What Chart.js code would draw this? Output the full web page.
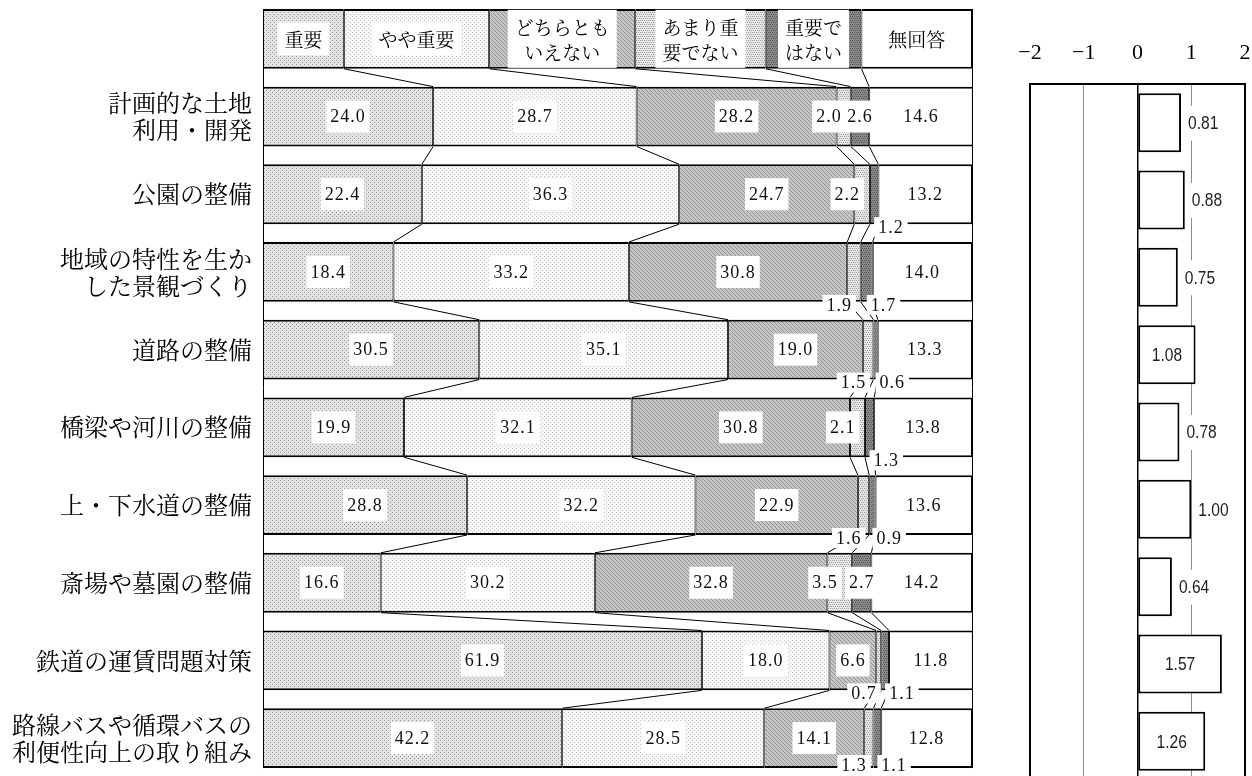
<!DOCTYPE html>
<html lang="ja">
<head>
<meta charset="utf-8">
<script src="https://cdn.jsdelivr.net/npm/chart.js@4.4.1/dist/chart.umd.min.js"></script>
<style>
  html, body { margin: 0; padding: 0; background: #fff; overflow: hidden; width: 1252px; height: 776px; }
  #mainChart { position: absolute; left: 0; top: 0; }
  #scoreChart { position: absolute; left: 990px; top: 0; }
</style>
</head>
<body>
<canvas id="mainChart" width="990" height="777"></canvas>
<canvas id="scoreChart" width="262" height="780"></canvas>
<script>
// ---- data ----
const categories = [
  ['計画的な土地', '利用・開発'],
  '公園の整備',
  ['地域の特性を生か', 'した景観づくり'],
  '道路の整備',
  '橋梁や河川の整備',
  '上・下水道の整備',
  '斎場や墓園の整備',
  '鉄道の運賃問題対策',
  ['路線バスや循環バスの', '利便性向上の取り組み']
];
const seriesNames = ['重要', 'やや重要', 'どちらともいえない', 'あまり重要でない', '重要ではない', '無回答'];
const legendLines = [['重要'], ['やや重要'], ['どちらとも', 'いえない'], ['あまり重', '要でない'], ['重要で', 'はない'], ['無回答']];
// widths of the legend row drawn as the first bar
const legendRowWidths = [11.4, 20.5, 20.6, 18.4, 13.5, 15.6];

const important     = [24.0, 22.4, 18.4, 30.5, 19.9, 28.8, 16.6, 61.9, 42.2];
const fairlyImp     = [28.7, 36.3, 33.2, 35.1, 32.1, 32.2, 30.2, 18.0, 28.5];
const neither       = [28.2, 24.7, 30.8, 19.0, 30.8, 22.9, 32.8, 6.6, 14.1];
const notVery       = [2.0, 2.2, 1.9, 1.5, 2.1, 1.6, 3.5, 0.7, 1.3];
const notImp        = [2.6, 1.2, 1.7, 0.6, 1.3, 0.9, 2.7, 1.1, 1.1];
const noAnswer      = [14.6, 13.2, 14.0, 13.3, 13.8, 13.6, 14.2, 11.8, 12.8];
const seriesValues = [important, fairlyImp, neither, notVery, notImp, noAnswer];

const avgScores  = [0.81, 0.88, 0.75, 1.08, 0.78, 1.00, 0.64, 1.57, 1.26];
const scoreTicks = [-2, -1, 0, 1, 2];

// where the labels of the two thin series go: c = centre, l = left of segment,
// bl / br = under the bar, left / right of the segment
const smallLabelPlace = {
  3: ['l', 'l', 'bl', 'bl', 'l', 'bl', 'l', 'bl', 'bl'],
  4: ['c', 'br', 'br', 'br', 'br', 'br', 'c', 'br', 'br']
};

const jpFont = '"Noto Serif CJK JP", "Noto Sans CJK JP", sans-serif';
const numFont = '"Liberation Serif", "DejaVu Serif", serif';
const labelFont = '"Liberation Sans", Roboto, sans-serif';

// ---- fill patterns ----
const mainCtx = document.getElementById('mainChart').getContext('2d');
function makePattern(bg, dot, cells) {
  const c = document.createElement('canvas');
  c.width = 4; c.height = 4;
  const g = c.getContext('2d');
  g.fillStyle = bg; g.fillRect(0, 0, 4, 4);
  g.fillStyle = dot;
  cells.forEach(p => g.fillRect(p[0], p[1], 1, 1));
  return mainCtx.createPattern(c, 'repeat');
}
const fills = [
  makePattern('#e2e2e2', '#9c9c9c', [[0, 0], [2, 2]]),
  makePattern('#f7f7f7', '#c4c4c4', [[0, 0], [2, 2]]),
  makePattern('#c6c6c6', '#929292', [[0, 0], [1, 1], [2, 2], [3, 3]]),
  makePattern('#e6e6e6', '#a0a0a0', [[0, 0], [2, 0], [1, 2], [3, 2]]),
  makePattern('#8a8a8a', '#555555', [[0, 0], [2, 0], [1, 2], [3, 2]]),
  '#ffffff'
];

function boxedText(ctx, lines, x, cy, opt) {
  ctx.font = opt.font;
  ctx.letterSpacing = opt.spacing || '0px';
  const w = Math.max.apply(null, lines.map(t => ctx.measureText(t).width));
  const bw = w + opt.padX * 2;
  const bh = opt.boxH || lines.length * opt.lineH + opt.padY * 2;
  const left = opt.anchor === 'left' ? x : opt.anchor === 'right' ? x - bw : x - bw / 2;
  ctx.fillStyle = '#fff';
  ctx.fillRect(left, cy - bh / 2, bw, bh);
  ctx.fillStyle = opt.color || '#000';
  ctx.textAlign = 'left';
  ctx.textBaseline = 'middle';
  lines.forEach((t, i) => {
    const tw = ctx.measureText(t).width;
    ctx.fillText(t, left + (bw - tw) / 2, cy + (i - (lines.length - 1) / 2) * opt.lineH + 1);
  });
  ctx.letterSpacing = '0px';
}

function noScalePadding(scale) {
  scale.paddingTop = 0;
  scale.paddingBottom = 0;
  scale.paddingLeft = 0;
  scale.paddingRight = 0;
}

const mainOverlay = {
  id: 'mainOverlay',
  beforeDatasetsDraw(chart) {
    const ctx = chart.ctx;
    const m = chart.getDatasetMeta(0).data;
    const top = m[0].y - m[0].height / 2;
    const bot = m[m.length - 1].y + m[m.length - 1].height / 2;
    ctx.save();
    ctx.strokeStyle = '#000';
    ctx.lineWidth = 1;
    [chart.chartArea.left, chart.chartArea.right].forEach(px => {
      ctx.beginPath();
      ctx.moveTo(Math.round(px) + 0.5, top);
      ctx.lineTo(Math.round(px) + 0.5, bot);
      ctx.stroke();
    });
    ctx.restore();
  },
  afterDatasetsDraw(chart) {
    const ctx = chart.ctx;
    const metas = seriesNames.map((_, i) => chart.getDatasetMeta(i).data);
    const rows = chart.data.labels.length;
    ctx.save();
    // series lines between bars
    ctx.strokeStyle = '#000';
    ctx.lineWidth = 1;
    for (let r = 0; r < rows - 1; r++) {
      const a = metas[0][r], b = metas[0][r + 1];
      const yA = a.y + a.height / 2, yB = b.y - b.height / 2;
      for (let s = 0; s < 5; s++) {
        ctx.beginPath();
        ctx.moveTo(metas[s][r].x, yA);
        ctx.lineTo(metas[s][r + 1].x, yB);
        ctx.stroke();
      }
    }
    // legend row
    for (let s = 0; s < seriesNames.length; s++) {
      const el = metas[s][0];
      boxedText(ctx, legendLines[s], (el.x + el.base) / 2, el.y,
        { font: '19px ' + jpFont, lineH: 25, padX: 7, padY: 4 });
    }
    // value labels
    const numOpt = { font: '18px ' + numFont, lineH: 18, padX: 4, color: '#111', spacing: '1px' };
    const order = [0, 1, 2, 5, 3, 4];
    order.forEach(s => {
      for (let r = 1; r < rows; r++) {
        const el = metas[s][r];
        const v = seriesValues[s][r - 1];
        const mode = smallLabelPlace[s] ? smallLabelPlace[s][r - 1] : 'c';
        const cx = (el.x + el.base) / 2;
        const bottom = el.y + el.height / 2;
        const under = Math.min(bottom + 3, chart.chartArea.bottom - 12);
        const txt = [v.toFixed(1)];
        if (mode === 'c') boxedText(ctx, txt, cx, el.y, Object.assign({}, numOpt, { boxH: 32 }));
        else if (mode === 'l') boxedText(ctx, txt, cx + 2, el.y, Object.assign({}, numOpt, { boxH: 32, anchor: 'right' }));
        else if (mode === 'bl') boxedText(ctx, txt, cx + 2, under, Object.assign({}, numOpt, { boxH: 20, anchor: 'right' }));
        else boxedText(ctx, txt, cx, under, Object.assign({}, numOpt, { boxH: 20, anchor: 'left' }));
      }
    });
    ctx.restore();
  }
};

new Chart(document.getElementById('mainChart'), {
  type: 'bar',
  data: {
    labels: [''].concat(categories),
    datasets: seriesNames.map((name, s) => ({
      label: name,
      data: [legendRowWidths[s]].concat(seriesValues[s]),
      backgroundColor: fills[s],
      borderColor: '#000',
      borderWidth: { top: 2, bottom: 2, left: 1, right: 1 },
      borderSkipped: false,
      categoryPercentage: 1,
      barPercentage: 0.77
    }))
  },
  options: {
    indexAxis: 'y',
    responsive: false,
    animation: false,
    events: [],
    layout: { padding: { left: 0, right: 18, top: 0, bottom: 0 } },
    plugins: { legend: { display: false }, tooltip: { enabled: false } },
    scales: {
      x: { stacked: true, min: 0, max: 100, display: false },
      y: {
        stacked: true,
        grid: { display: false, drawTicks: false },
        border: { display: false },
        ticks: { autoSkip: false, padding: 11, color: '#000', font: { family: jpFont, size: 24, lineHeight: 1.13 } },
        afterFit(scale) { scale.width = 263; noScalePadding(scale); }
      }
    }
  },
  plugins: [mainOverlay]
});

// ---- average score chart ----
const scoreLabels = {
  id: 'scoreLabels',
  afterDatasetsDraw(chart) {
    const ctx = chart.ctx;
    const squeeze = 0.82; // narrow lettering
    ctx.save();
    ctx.font = '19px ' + labelFont;
    ctx.textBaseline = 'middle';
    ctx.textAlign = 'left';
    chart.getDatasetMeta(0).data.forEach((el, i) => {
      const txt = avgScores[i].toFixed(2);
      const w = ctx.measureText(txt).width * squeeze;
      let tx;
      if (avgScores[i] > 1.05) {
        tx = (el.x + el.base) / 2 - w / 2;
      } else {
        ctx.fillStyle = '#fff';
        ctx.fillRect(el.x + 4, el.y - 17, w + 6, 35);
        tx = el.x + 7;
      }
      ctx.save();
      ctx.translate(tx, el.y + 1);
      ctx.scale(squeeze, 1);
      ctx.fillStyle = '#222';
      ctx.fillText(txt, 0, 0);
      ctx.restore();
    });
    ctx.restore();
  }
};

new Chart(document.getElementById('scoreChart'), {
  type: 'bar',
  data: {
    labels: categories,
    datasets: [{
      data: avgScores,
      backgroundColor: '#fff',
      borderColor: '#000',
      borderWidth: 2,
      borderSkipped: false,
      categoryPercentage: 1,
      barPercentage: 0.763
    }]
  },
  options: {
    indexAxis: 'y',
    responsive: false,
    animation: false,
    events: [],
    layout: { padding: { left: 40, right: 7, top: 0, bottom: 0 } },
    plugins: { legend: { display: false }, tooltip: { enabled: false } },
    scales: {
      x: {
        position: 'top',
        min: -2,
        max: 2,
        afterBuildTicks(scale) { scale.ticks = scoreTicks.map(v => ({ value: v })); },
        ticks: {
          padding: 18,
          color: '#000',
          maxRotation: 0,
          font: { family: numFont, size: 22 },
          callback: v => (v < 0 ? '−' + Math.abs(v) : String(v))
        },
        grid: {
          drawTicks: false,
          color: c => (Math.abs(c.tick.value) === 1 ? '#8c8c8c' : '#000'),
          lineWidth: c => (Math.abs(c.tick.value) === 2 ? 2 : Math.abs(c.tick.value) === 1 ? 1 : 1.5)
        },
        border: { display: true, color: '#000', width: 2 },
        afterFit(scale) { scale.height = 84; noScalePadding(scale); }
      },
      y: { display: false, afterFit: noScalePadding }
    }
  },
  plugins: [scoreLabels]
});
</script>
</body>
</html>
